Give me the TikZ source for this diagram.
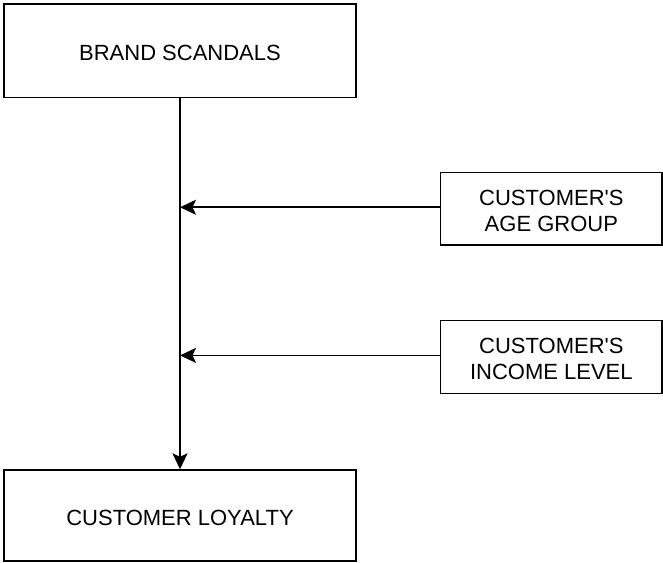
\documentclass[tikz,border=0pt]{standalone}
\usepackage{fontspec}
\setmainfont{Liberation Sans}
\usetikzlibrary{arrows.meta}
\begin{document}
\begin{tikzpicture}[x=1pt,y=-1pt,
  box/.style={draw=black,line width=1.4pt,fill=white,inner sep=0pt,align=center,
    font=\fontsize{22}{25.7}\selectfont,text depth=0pt},
  one/.style={text height=20.4pt},
  two/.style={text height=45pt},
  link/.style={draw=black,line width=1.7pt,-{Stealth[length=16pt,width=15pt,inset=3.5pt]}}]
\useasboundingbox (0,0) rectangle (663,562);
\node[box,one,minimum width=352pt,minimum height=93.5pt] (brand) at (180,50.75) {BRAND SCANDALS};
\node[box,one,minimum width=352pt,minimum height=91pt] (loyal) at (180,515.5) {CUSTOMER LOYALTY};
\node[box,two,minimum width=221.3pt,minimum height=72.7pt] (age) at (551.35,208.65) {CUSTOMER\textquotesingle S\\AGE GROUP};
\node[box,two,minimum width=221.3pt,minimum height=72.6pt] (inc) at (551.35,357) {CUSTOMER\textquotesingle S\\INCOME LEVEL};
\draw[link] (brand.south) -- (loyal.north);
\draw[link] ([yshift=1.4pt]age.west) -- ([yshift=1.4pt]age.west -| brand.south);
\draw[link] ([yshift=1.6pt]inc.west) -- ([yshift=1.6pt]inc.west -| brand.south);
\end{tikzpicture}
\end{document}
